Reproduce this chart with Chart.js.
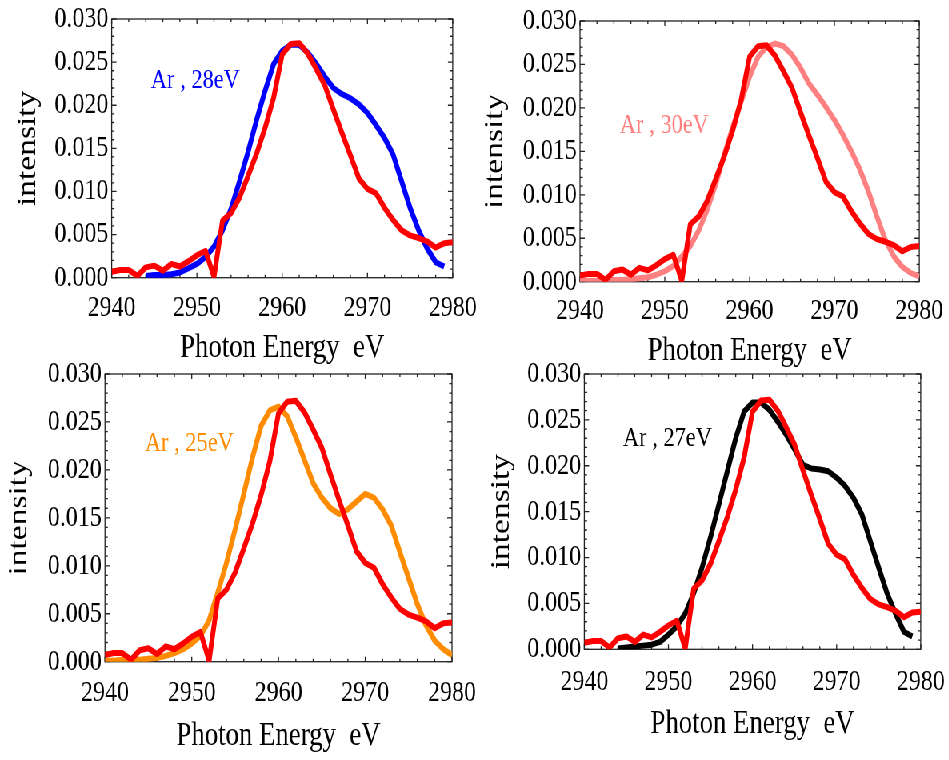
<!DOCTYPE html>
<html>
<head>
<meta charset="utf-8">
<title>Ar photon energy spectra</title>
<script src="https://cdn.jsdelivr.net/npm/chart.js@4.4.1/dist/chart.umd.min.js"></script>
<style>
  html, body { margin: 0; padding: 0; background: #ffffff; overflow: hidden; }
  /* the sheet is laid out wide and squeezed horizontally, like the printed figure */
  #sheet { position: absolute; left: 0; top: 0; width: 1186.25px; height: 760px;
           transform: scaleX(0.8); transform-origin: 0 0; }
  #sheet canvas { position: absolute; }
</style>
</head>
<body>
<div id="sheet"></div>
<script>
// photon energy grid (eV)
const energy = [2940, 2941, 2942, 2943, 2944, 2945, 2946, 2947, 2948, 2949,
                2950, 2951, 2952, 2953, 2954, 2955, 2956, 2957, 2958, 2959,
                2960, 2961, 2962, 2963, 2964, 2965, 2966, 2967, 2968, 2969,
                2970, 2971, 2972, 2973, 2974, 2975, 2976, 2977, 2978, 2979, 2980];

// measured spectrum (red, shown in every panel)
const measured = [0.0007, 0.0009, 0.0009, 0.0002, 0.0012, 0.0014, 0.0008, 0.0016, 0.0013, 0.0019,
                  0.0026, 0.0031, 0.0001, 0.0066, 0.0075, 0.0093, 0.0118, 0.0144, 0.0174, 0.0209,
                  0.0259, 0.0271, 0.0272, 0.0260, 0.0242, 0.0223, 0.0195, 0.0168, 0.0142, 0.0115,
                  0.0103, 0.0098, 0.0081, 0.0067, 0.0055, 0.0049, 0.0046, 0.0042, 0.0035, 0.0040, 0.0041];

// calculated spectra
const ar28 = [null, null, null, null, 0.0002, 0.0003, 0.0003, 0.0004, 0.0006, 0.0011,
              0.0016, 0.0024, 0.0036, 0.0055, 0.0080, 0.0112, 0.0146, 0.0183, 0.0217, 0.0248,
              0.0263, 0.0270, 0.0270, 0.0261, 0.0248, 0.0233, 0.0220, 0.0213, 0.0208, 0.0201,
              0.0191, 0.0177, 0.0162, 0.0143, 0.0112, 0.0081, 0.0055, 0.0034, 0.0018, 0.0013, null];

const ar30 = [0.0001, 0.0001, 0.0001, 0.0002, 0.0002, 0.0002, 0.0003, 0.0004, 0.0005, 0.0008,
              0.0012, 0.0018, 0.0029, 0.0041, 0.0059, 0.0083, 0.0112, 0.0146, 0.0178, 0.0207,
              0.0236, 0.0259, 0.0270, 0.0274, 0.0271, 0.0261, 0.0246, 0.0228, 0.0215, 0.0201,
              0.0186, 0.0169, 0.0150, 0.0129, 0.0104, 0.0075, 0.0048, 0.0029, 0.0017, 0.0010, 0.0006];

const ar25 = [0.0001, 0.0001, 0.0002, 0.0002, 0.0002, 0.0003, 0.0004, 0.0006, 0.0009, 0.0013,
              0.0019, 0.0027, 0.0043, 0.0072, 0.0103, 0.0138, 0.0175, 0.0213, 0.0246, 0.0262,
              0.0266, 0.0256, 0.0234, 0.0210, 0.0186, 0.0171, 0.0160, 0.0154, 0.0159, 0.0167,
              0.0175, 0.0171, 0.0159, 0.0142, 0.0114, 0.0087, 0.0060, 0.0038, 0.0022, 0.0013, 0.0007];

const ar27 = [null, null, null, null, 0.0001, 0.0002, 0.0003, 0.0004, 0.0005, 0.0008,
              0.0016, 0.0025, 0.0039, 0.0061, 0.0089, 0.0122, 0.0158, 0.0194, 0.0230, 0.0259,
              0.0269, 0.0269, 0.0261, 0.0248, 0.0234, 0.0218, 0.0201, 0.0197, 0.0196, 0.0194,
              0.0187, 0.0178, 0.0165, 0.0147, 0.0118, 0.0089, 0.0061, 0.0039, 0.0019, 0.0014, null];

// panel captions and the spectrum each one compares with the measurement
const captions = ['Ar , 28eV', 'Ar , 30eV', 'Ar , 25eV', 'Ar , 27eV'];
const compared = [ar28, ar30, ar25, ar27];

const xTitle = 'Photon Energy  eV';
const yTitle = 'intensity';

// ---- appearance -------------------------------------------------------
const FONT = "'Liberation Serif', 'Times New Roman', serif";
const curveColors = ['#0000ff', '#ff8080', '#ff8c00', '#000000'];
const measuredColor = '#ff0000';
const TICK_SIZE = 30;
const TITLE_SIZE = 33.5;
const LINE_W = 6;

// canvas box (cx, cy, cw, ch), plot box (L, R, T, B), caption anchor in data units,
// tick-label and title offsets
const panels = [
  { cx: 0,   cy: 0,   cw: 660, ch: 372, L: 139.6, R: 565.9, T: 16,    B: 277.7, cap: [2944.6, 0.0220], xtp: 15.3, xtb: 4,  ytp: 15 },
  { cx: 593, cy: 0,   cw: 660, ch: 372, L: 725,   R: 1149.1, T: 21,   B: 281.7, cap: [2944.7, 0.0171], xtp: 14.3, xtb: 1,  ytp: 6 },
  { cx: 0,   cy: 355, cw: 660, ch: 405, L: 131.25, R: 565, T: 370,    B: 661.7, cap: [2944.6, 0.0220], xtp: 16.3, xtb: 3.5, ytp: 4 },
  { cx: 593, cy: 355, cw: 660, ch: 405, L: 730.4, R: 1150.9, T: 372.3, B: 649.3, cap: [2944.6, 0.0221], xtp: 17.8, xtb: 16, ytp: 14.5 }
];

// inward frame ticks on all four sides
const framePlugin = {
  id: 'frameTicks',
  beforeDatasetsDraw(chart) {
    const { ctx, chartArea: a, scales: { x, y } } = chart;
    ctx.save();
    ctx.strokeStyle = '#222222';
    ctx.lineWidth = 1.3;
    ctx.strokeRect(a.left, a.top, a.right - a.left, a.bottom - a.top);
    ctx.beginPath();
    for (let k = 0; x.min + 2 * k <= x.max + 1e-9; k++) {
      const v = x.min + 2 * k;
      const len = (k % 5 === 0) ? 5 : 3;
      const px = x.getPixelForValue(v);
      ctx.moveTo(px, a.bottom); ctx.lineTo(px, a.bottom - len);
      ctx.moveTo(px, a.top);    ctx.lineTo(px, a.top + len);
    }
    for (let k = 0; y.min + 0.001 * k <= y.max + 1e-9; k++) {
      const v = y.min + 0.001 * k;
      const len = (k % 5 === 0) ? 6 : 3.5;
      const py = y.getPixelForValue(v);
      ctx.moveTo(a.left, py);  ctx.lineTo(a.left + len, py);
      ctx.moveTo(a.right, py); ctx.lineTo(a.right - len, py);
    }
    ctx.stroke();
    ctx.restore();
  }
};

// caption inside the plot, in the colour of the compared curve
const captionPlugin = {
  id: 'caption',
  afterDatasetsDraw(chart, args, opts) {
    const { ctx, scales: { x, y } } = chart;
    ctx.save();
    ctx.font = '28px ' + FONT;
    ctx.fillStyle = opts.color;
    ctx.textAlign = 'left';
    ctx.textBaseline = 'alphabetic';
    ctx.fillText(opts.text, x.getPixelForValue(opts.at[0]), y.getPixelForValue(opts.at[1]));
    ctx.restore();
  }
};

const sheet = document.getElementById('sheet');

panels.forEach((p, i) => {
  const canvas = document.createElement('canvas');
  canvas.width = p.cw;
  canvas.height = p.ch;
  canvas.style.left = p.cx + 'px';
  canvas.style.top = p.cy + 'px';
  canvas.style.width = p.cw + 'px';
  canvas.style.height = p.ch + 'px';
  sheet.appendChild(canvas);

  const toPoints = arr => energy.map((e, j) => ({ x: e, y: arr[j] }));

  new Chart(canvas, {
    type: 'line',
    data: {
      datasets: [
        { label: 'measured', data: toPoints(measured), borderColor: measuredColor,
          borderWidth: LINE_W, order: 0 },
        { label: captions[i], data: toPoints(compared[i]), borderColor: curveColors[i],
          borderWidth: LINE_W, order: 1 }
      ]
    },
    options: {
      responsive: false,
      animation: false,
      devicePixelRatio: 1,
      layout: { padding: { left: 0, top: p.T - p.cy, right: p.cw - (p.R - p.cx), bottom: 0 } },
      elements: {
        point: { radius: 0, hoverRadius: 0 },
        line: { tension: 0, fill: false, borderJoinStyle: 'round', borderCapStyle: 'butt' }
      },
      plugins: {
        legend: { display: false },
        tooltip: { enabled: false },
        caption: { text: captions[i], color: curveColors[i], at: p.cap }
      },
      scales: {
        x: {
          type: 'linear', min: 2940, max: 2980,
          grid: { display: false, drawTicks: false }, border: { display: false },
          ticks: { stepSize: 10, padding: p.xtp, color: '#000', maxRotation: 0, autoSkip: false,
                   font: { family: FONT, size: TICK_SIZE, lineHeight: 1 },
                   callback: v => String(v) },
          title: { display: true, text: xTitle, color: '#000',
                   font: { family: FONT, size: TITLE_SIZE }, padding: { top: 0, bottom: p.xtb } },
          afterFit(s) { s.height = p.ch - (p.B - p.cy); }
        },
        y: {
          type: 'linear', min: 0, max: 0.03,
          grid: { display: false, drawTicks: false }, border: { display: false },
          ticks: { stepSize: 0.005, padding: 4, color: '#000',
                   font: { family: FONT, size: TICK_SIZE, lineHeight: 1 },
                   callback: v => Number(v).toFixed(3) },
          title: { display: true, text: yTitle, color: '#000',
                   font: { family: FONT, size: TITLE_SIZE }, padding: { top: p.ytp, bottom: 0 } },
          afterFit(s) { s.width = p.L - p.cx; }
        }
      }
    },
    plugins: [framePlugin, captionPlugin]
  });
});
</script>
</body>
</html>
